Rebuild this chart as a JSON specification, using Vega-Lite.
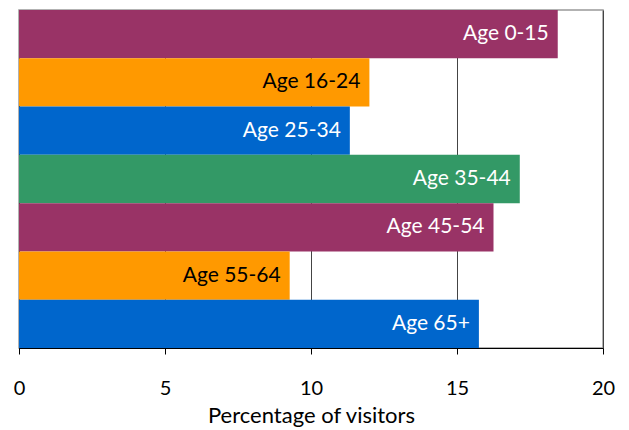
{
  "$schema": "https://vega.github.io/schema/vega-lite/v6.json",
  "width": 584,
  "height": 338,
  "autosize": {"type": "none"},
  "padding": {"left": 19, "top": 10, "right": 26, "bottom": 82},
  "background": "white",
  "config": {
    "view": {"stroke": "#999999", "strokeWidth": 1.5},
    "font": "Lato"
  },
  "data": {
    "values": [
      {"age": "Age 0-15", "pct": 18.45},
      {"age": "Age 16-24", "pct": 12.0},
      {"age": "Age 25-34", "pct": 11.33},
      {"age": "Age 35-44", "pct": 17.15},
      {"age": "Age 45-54", "pct": 16.25},
      {"age": "Age 55-64", "pct": 9.27},
      {"age": "Age 65+", "pct": 15.75}
    ]
  },
  "encoding": {
    "y": {
      "field": "age",
      "type": "nominal",
      "sort": null,
      "scale": {"paddingInner": 0, "paddingOuter": 0},
      "axis": {"labels": false, "ticks": false, "title": null, "domainColor": "black", "domainWidth": 1}
    },
    "x": {
      "field": "pct",
      "type": "quantitative",
      "scale": {"domain": [0, 20]},
      "axis": {
        "values": [0, 5, 10, 15, 20],
        "title": "Percentage of visitors",
        "titleFontSize": 22,
        "titleFontWeight": "normal",
        "titleColor": "black",
        "titlePadding": 7,
        "labelFontSize": 20,
        "labelColor": "black",
        "labelPadding": 24,
        "labelFlush": false,
        "tickColor": "black",
        "tickSize": 6,
        "domainColor": "black",
        "gridColor": "#444444",
        "gridWidth": 1,
        "gridOpacity": 1
      }
    }
  },
  "layer": [
    {
      "mark": {"type": "bar"},
      "encoding": {
        "color": {
          "field": "age",
          "type": "nominal",
          "legend": null,
          "scale": {
            "domain": ["Age 0-15", "Age 16-24", "Age 25-34", "Age 35-44", "Age 45-54", "Age 55-64", "Age 65+"],
            "range": ["#993366", "#FF9900", "#0066CC", "#339966", "#993366", "#FF9900", "#0066CC"]
          }
        }
      }
    },
    {
      "mark": {"type": "text", "align": "right", "baseline": "middle", "dx": -9, "fontSize": 21},
      "encoding": {
        "text": {"field": "age"},
        "color": {
          "condition": {"test": "datum.age === 'Age 16-24' || datum.age === 'Age 55-64'", "value": "black"},
          "value": "white"
        }
      }
    }
  ]
}
